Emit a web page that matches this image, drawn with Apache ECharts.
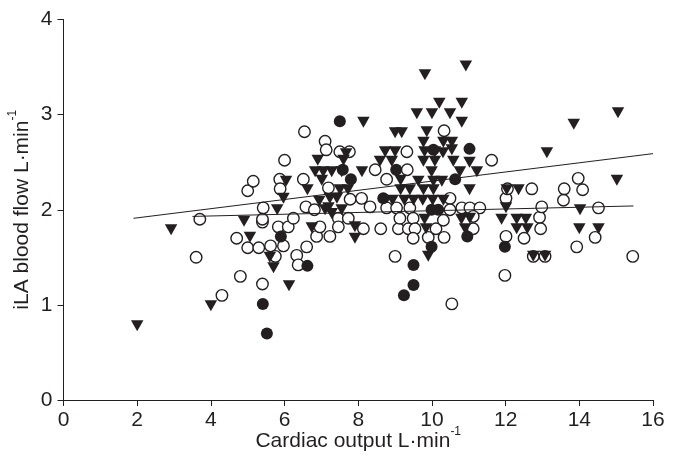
<!DOCTYPE html>
<html><head><meta charset="utf-8">
<script src="https://cdn.jsdelivr.net/npm/echarts@6/dist/echarts.min.js"></script>
<style>html,body{margin:0;padding:0;background:#fff}#c{width:678px;height:457px}</style>
</head><body><div id="c"></div>
<script>
// Cardiac output (x, L/min) vs iLA blood flow (y, L/min)
const xTicks = [0, 2, 4, 6, 8, 10, 12, 14, 16];
const yTicks = [0, 1, 2, 3, 4];
const xAxisTitle = 'Cardiac output L·min';
const yAxisTitle = 'iLA blood flow L·min';

const openCircles = [
[3.6,1.5],[3.7,1.9],[4.3,1.1],[4.7,1.7],[4.8,1.3],[5.0,1.6],[5.0,2.2],[5.15,2.3],[5.3,1.6],[5.4,1.87],
[5.4,1.22],[5.42,2.02],[5.4,1.9],[5.62,1.62],[5.75,1.51],[5.83,1.82],[5.87,2.32],[6.0,2.52],[5.97,1.62],[5.88,2.22],
[6.1,1.82],[6.24,1.91],[6.33,1.52],[6.37,1.42],[6.51,2.32],[6.54,2.82],[6.58,2.03],[6.6,1.61],[6.81,2.0],[6.87,1.72],
[6.96,1.82],[7.1,2.72],[7.13,2.63],[7.19,2.23],[7.23,1.72],[7.46,1.91],[7.46,1.82],[7.5,2.61],[7.76,2.61],[7.73,1.91],
[7.78,2.11],[8.09,2.12],[8.14,1.80],[8.32,2.03],[8.46,2.42],[8.61,1.80],[8.77,2.32],[8.77,2.02],[9.04,2.02],[9.0,1.51],
[9.09,1.80],[9.13,1.91],[9.32,2.61],[9.33,2.42],[9.36,1.80],[9.4,2.02],[9.49,1.91],[9.54,1.80],[9.49,1.70],[9.9,1.71],
[10.11,1.80],[10.31,1.89],[10.33,1.71],[10.33,2.83],[10.49,2.12],[10.49,2.0],[10.54,1.01],[10.81,2.02],[11.03,2.02],[11.3,2.02],
[11.12,1.93],[11.12,1.80],[11.62,2.52],[11.98,1.31],[12.01,1.72],[12.01,2.12],[12.05,2.22],[12.5,1.70],[12.71,2.22],[12.75,1.51],
[12.92,1.92],[12.95,1.80],[12.98,2.03],[13.07,1.51],[13.57,2.10],[13.59,2.22],[13.93,1.61],[13.97,2.33],[14.09,2.21],[14.43,1.71],
[14.52,2.02],[15.45,1.51]
];

const filledCircles = [
[5.41,1.01],[5.52,0.70],[5.9,1.72],[6.62,1.41],[7.5,2.93],[7.58,2.42],[7.8,2.32],[8.68,2.12],[9.03,2.42],[9.24,1.10],
[9.5,1.42],[9.5,1.21],[9.99,1.61],[9.99,2.0],[10.17,2.0],[10.04,2.63],[10.63,2.32],[10.96,1.72],[11.02,2.64],[11.98,1.61]
];

const triangles = [
[2.0,0.78],[2.92,1.79],[4.0,0.99],[4.9,1.88],[5.06,1.71],[5.6,1.5],[5.7,1.39],[5.8,2.0],[6.04,2.3],[5.97,2.12],
[6.12,1.2],[6.62,2.21],[6.74,1.81],[6.9,2.52],[6.83,2.40],[7.05,2.40],[7.28,2.40],[7.55,2.40],[7.01,2.31],[6.94,2.09],
[7.1,2.0],[7.28,1.96],[7.6,2.52],[7.67,2.59],[7.5,2.21],[7.72,2.21],[7.91,1.82],[7.91,1.70],[8.14,2.92],[8.1,2.4],
[8.59,2.51],[8.91,2.51],[8.73,2.61],[9.0,2.61],[9.0,2.81],[9.18,2.81],[9.15,2.31],[9.8,2.61],[10.08,2.61],[10.3,2.6],
[10.54,2.63],[9.86,2.82],[9.77,2.71],[10.31,2.71],[10.54,2.71],[9.59,3.01],[10.0,3.01],[10.49,3.01],[10.2,3.12],[10.81,3.12],
[10.81,2.92],[9.81,3.42],[10.92,3.51],[9.77,2.51],[10.08,2.51],[10.58,2.51],[9.99,2.40],[10.76,2.40],[11.22,2.40],[11.02,2.50],
[11.02,2.21],[9.63,2.3],[10.04,2.3],[10.27,2.3],[9.77,2.21],[10.04,2.21],[9.15,2.21],[9.4,2.21],[7.23,2.12],[7.42,2.12],
[8.93,2.1],[9.25,2.1],[9.5,2.1],[9.75,2.1],[10.02,2.1],[10.31,2.1],[7.19,2.02],[7.55,2.0],[9.8,1.9],[9.84,1.80],
[9.9,1.51],[10.8,1.90],[10.9,1.80],[11.03,1.91],[11.89,1.90],[12.01,2.02],[12.03,2.21],[12.35,2.21],[12.3,1.90],[12.55,1.90],
[12.3,1.80],[12.59,1.80],[12.75,1.51],[13.07,1.51],[13.12,2.60],[13.85,2.9],[14.0,1.80],[14.52,1.80],[14.02,2.0],[15.02,2.31],
[15.05,3.02]
];

// regression lines (end points)
const regLineSteep = [[1.9,1.91],[16,2.59]];
const regLineFlat = [[3.5,1.93],[15.47,2.04]];

const ink = '#231f20';
const chart = echarts.init(document.getElementById('c'), null, {renderer:'canvas'});
const fontFamily = 'Liberation Sans, Arial, Helvetica, sans-serif';
const supRich = {
  base: {fontSize: 21, color: ink, fontFamily: fontFamily, lineHeight: 26, verticalAlign: 'bottom'},
  sup: {fontSize: 12, color: ink, fontFamily: fontFamily, lineHeight: 26, verticalAlign: 'top'}
};
chart.setOption({
  animation: false,
  backgroundColor: '#fff',
  grid: {left: 63.5, right: 25, top: 19.5, bottom: 57, containLabel: false, outerBoundsMode: 'none'},
  xAxis: {
    type: 'value', min: xTicks[0], max: xTicks[xTicks.length-1], interval: 2,
    name: '{base|' + xAxisTitle + '}{sup|-1}', nameLocation: 'middle', nameGap: 26,
    nameMoveOverlap: false,
    nameTextStyle: {rich: supRich},
    axisLine: {lineStyle: {color: ink, width: 1}},
    axisTick: {show: true, inside: false, length: 6, lineStyle: {color: ink}},
    axisLabel: {color: ink, fontSize: 21, fontFamily: fontFamily, margin: 10},
    splitLine: {show: false}
  },
  yAxis: {
    type: 'value', min: yTicks[0], max: yTicks[yTicks.length-1], interval: 1,
    name: '{base|' + yAxisTitle + '}{sup|-1}', nameLocation: 'middle', nameGap: 31,
    nameMoveOverlap: false,
    nameTextStyle: {rich: supRich},
    axisLine: {show: true, lineStyle: {color: ink, width: 1}},
    axisTick: {show: true, inside: false, length: 6, lineStyle: {color: ink}},
    axisLabel: {color: ink, fontSize: 21, fontFamily: fontFamily, margin: 11},
    splitLine: {show: false}
  },
  series: [
    {type: 'scatter', data: openCircles, symbol: 'circle', symbolSize: 11.5, z: 2,
     itemStyle: {color: '#fff', borderColor: ink, borderWidth: 1.4, opacity: 1}},
    {type: 'scatter', data: triangles, symbol: 'triangle', symbolRotate: 180, symbolSize: [12.5, 11], z: 3,
     itemStyle: {color: ink, opacity: 1}},
    {type: 'scatter', data: filledCircles, symbol: 'circle', symbolSize: 12, z: 4,
     itemStyle: {color: ink, opacity: 1}},
    {type: 'line', data: regLineSteep, symbol: 'none', z: 5, lineStyle: {color: ink, width: 1}},
    {type: 'line', data: regLineFlat, symbol: 'none', z: 5, lineStyle: {color: ink, width: 1}}
  ]
});
</script>
</body></html>
